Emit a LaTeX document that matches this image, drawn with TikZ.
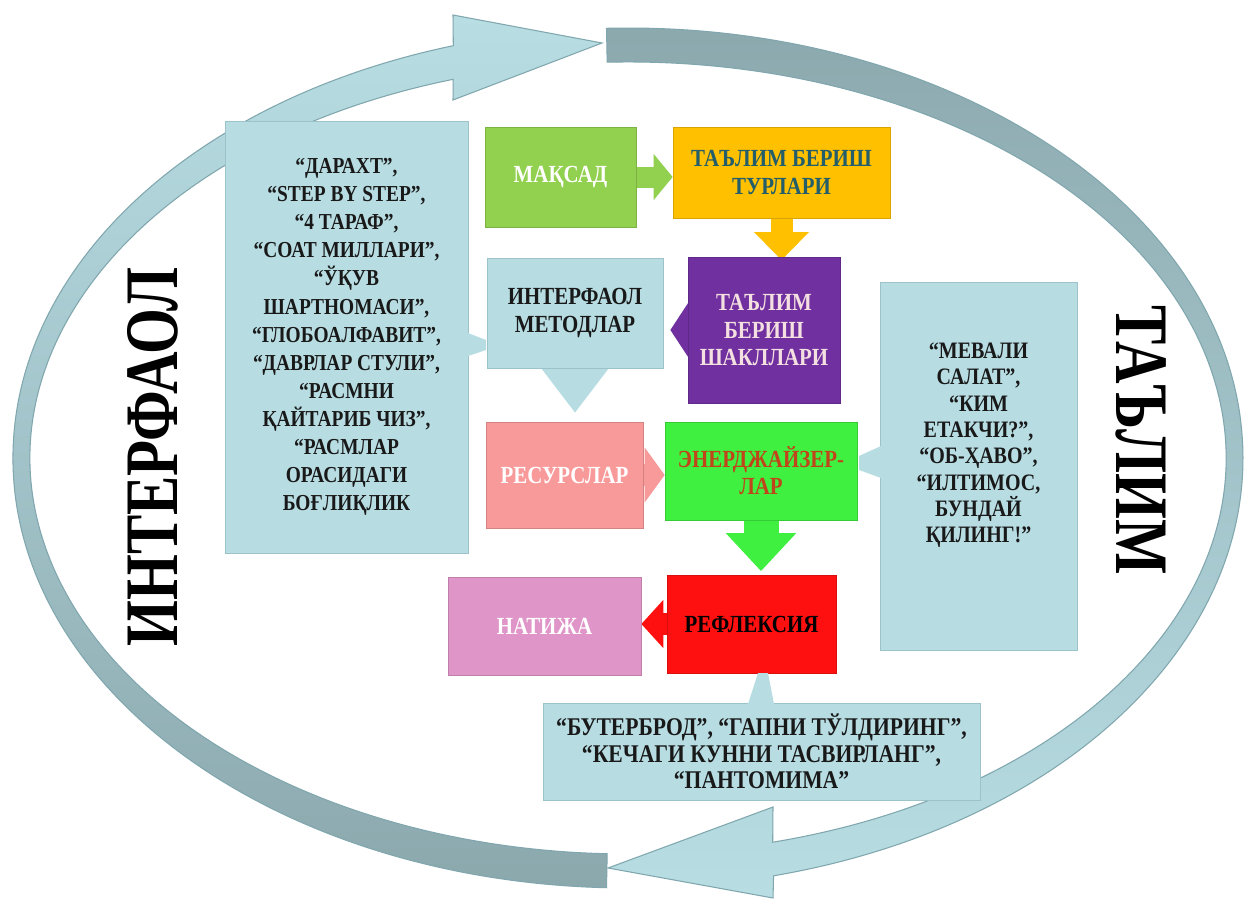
\documentclass[tikz,border=0pt]{standalone}
\usepackage{fontspec}
\setmainfont{Liberation Serif}[FakeStretch=0.85]
\newfontfamily\sidefont{Liberation Serif}[FakeStretch=0.78]
\usetikzlibrary{arrows.meta, backgrounds}

\definecolor{aqua}{HTML}{B7DDE3}
\definecolor{aquaedge}{HTML}{9CC3CA}
\definecolor{ringlight}{HTML}{B8DEE4}
\definecolor{ringdark}{HTML}{8BA8AD}
\definecolor{ringedge}{HTML}{80A7AE}
\definecolor{leafgreen}{HTML}{92D050}
\definecolor{amber}{HTML}{FFC000}
\definecolor{plum}{HTML}{7030A0}
\definecolor{salmon}{HTML}{F99A9A}
\definecolor{lime}{HTML}{40F040}
\definecolor{scarlet}{HTML}{FF1010}
\definecolor{orchid}{HTML}{DF95C8}
\definecolor{tealtext}{HTML}{235E6A}
\definecolor{rusttext}{HTML}{C0451A}
\definecolor{blushtext}{HTML}{F4E0E0}

\begin{document}
\begin{tikzpicture}[
    x=0.02cm, y=-0.02cm, % pixel grid, y down
    box/.style={
      rectangle,
      fill=#1,
      draw=#1!85!black,
      line width=0.4pt,
      inner sep=2pt,
      align=center,
      font=\fontsize{14}{15.5}\selectfont\bfseries
    },
    listbox/.style={
      box=aqua,
      draw=aquaedge,
      text=black!90,
      font=\fontsize{13.4}{15}\selectfont\bfseries
    },
    flow/.style n args={4}{
      draw=#1,
      line width=#2,
      -{Triangle[length=#3, width=#4]}
    },
    ring/.style={
      draw=ringedge,
      line width=0.6pt
    }
  ]

  \useasboundingbox (0,0) rectangle (1244,899);

  % Main flow boxes
  \node[box=leafgreen, text=white, minimum width=3.02cm, minimum height=2cm] (maqsad) at (560.5,177) {МАҚСАД};
  \node[box=amber, text=tealtext, minimum width=4.34cm, minimum height=1.82cm] (turlari) at (781.5,172.5) {ТАЪЛИМ БЕРИШ\\ТУРЛАРИ};
  \node[box=plum, text=blushtext, minimum width=3.04cm, minimum height=2.92cm] (shakllari) at (764,330) {ТАЪЛИМ\\БЕРИШ\\ШАКЛЛАРИ};
  \node[listbox, font=\fontsize{14}{15.5}\selectfont\bfseries, minimum width=3.52cm, minimum height=2.2cm] (metodlar) at (575,313) {ИНТЕРФАОЛ\\МЕТОДЛАР};
  \node[box=salmon, text=white, minimum width=3.14cm, minimum height=2.12cm] (resurslar) at (564.5,475) {РЕСУРСЛАР};
  \node[box=lime, text=rusttext, minimum width=3.84cm, minimum height=1.96cm] (energy) at (761,471) {ЭНЕРДЖАЙЗЕР-\\ЛАР};
  \node[box=scarlet, text=black, minimum width=3.38cm, minimum height=1.96cm] (refleksiya) at (751.5,624) {РЕФЛЕКСИЯ};
  \node[box=orchid, text=white, minimum width=3.86cm, minimum height=1.96cm] (natija) at (544.5,626) {НАТИЖА};

  % Lists of methods
  \node[listbox, font=\fontsize{13}{16}\selectfont\bfseries, minimum width=4.86cm, minimum height=8.64cm] (methods) at (346.5,337) {“ДАРАХТ”,\\“STEP BY STEP”,\\“4 ТАРАФ”,\\“СОАТ МИЛЛАРИ”,\\“ЎҚУВ\\ШАРТНОМАСИ”,\\“ГЛОБОАЛФАВИТ”,\\“ДАВРЛАР СТУЛИ”,\\“РАСМНИ\\ҚАЙТАРИБ ЧИЗ”,\\“РАСМЛАР\\ОРАСИДАГИ\\БОҒЛИҚЛИК};
  \node[listbox, minimum width=3.94cm, minimum height=7.36cm] (games) at (978.5,466) {“МЕВАЛИ\\САЛАТ”,\\“КИМ\\ЕТАКЧИ?”,\\“ОБ-ҲАВО”,\\“ИЛТИМОС,\\БУНДАЙ\\ҚИЛИНГ!”\\[0.4cm]};
  \node[listbox, font=\fontsize{14.5}{15}\selectfont\bfseries, minimum width=8.74cm, minimum height=1.94cm] (reflect) at (761.5,751.5) {“БУТЕРБРОД”, “ГАПНИ ТЎЛДИРИНГ”,\\“КЕЧАГИ КУННИ ТАСВИРЛАНГ”,\\“ПАНТОМИМА”};

  % callout tabs
  \fill[aqua] (468,333) -- (486,340) -- (486,350) -- (468,356) -- cycle;
  \fill[aqua] (881,446) -- (859,456) -- (859,470) -- (881,478) -- cycle;
  \fill[aqua] (748,704) -- (758,673) -- (768,673) -- (774,704) -- cycle;

  % Side titles
  \node[rotate=90, font=\sidefont\fontsize{43}{43}\selectfont\bfseries] (interfaol) at (153,457) {ИНТЕРФАОЛ};
  \node[rotate=-90, font=\sidefont\fontsize{43}{43}\selectfont\bfseries] (talim) at (1141,440) {ТАЪЛИМ};

  \begin{pgfonlayer}{background}
    \fill[white] (0,0) rectangle (1244,899);

    % Cycle arrows
    \path[ring, top color=ringlight, bottom color=ringdark]
      (606.5,887.7) arc[start angle=92, end angle=253.5, x radius=615, y radius=430]
      -- (453,15) -- (602,43) -- (453,100) -- (453.2,79.3)
      arc[start angle=253, end angle=92, x radius=598, y radius=396] -- cycle;
    \path[ring, top color=ringdark, bottom color=ringlight]
      (606.5,28.3) arc[start angle=-92, end angle=76.3, x radius=615, y radius=430]
      -- (773,898) -- (608,868) -- (773,807) -- (772.7,842.2)
      arc[start angle=76, end angle=-92, x radius=598, y radius=396] -- cycle;

    % Block arrows
    \draw[flow={leafgreen}{0.42cm}{0.38cm}{0.9cm}] (maqsad.east) -- (maqsad.east -| turlari.west);
    \draw[flow={amber}{0.44cm}{0.56cm}{1.06cm}] (turlari.south) -- ([yshift=-2pt]turlari.south |- shakllari.north);
    \draw[flow={plum}{0.44cm}{0.4cm}{1.2cm}] (shakllari.center) -- ([xshift=4pt]shakllari.center -| metodlar.east);
    \draw[flow={aqua}{0.5cm}{0.9cm}{1.3cm}] (metodlar.center) -- ([yshift=5pt]metodlar.center |- resurslar.north);
    \draw[flow={salmon}{0.44cm}{0.4cm}{1.08cm}] (resurslar.center) -- (resurslar.center -| energy.west);
    \draw[flow={lime}{0.7cm}{0.76cm}{1.36cm}] (energy.south) -- ([yshift=2pt]energy.south |- refleksiya.north);
    \draw[flow={scarlet}{0.44cm}{0.44cm}{0.94cm}] (refleksiya.center) -- (refleksiya.center -| natija.east);
  \end{pgfonlayer}

\end{tikzpicture}
\end{document}
